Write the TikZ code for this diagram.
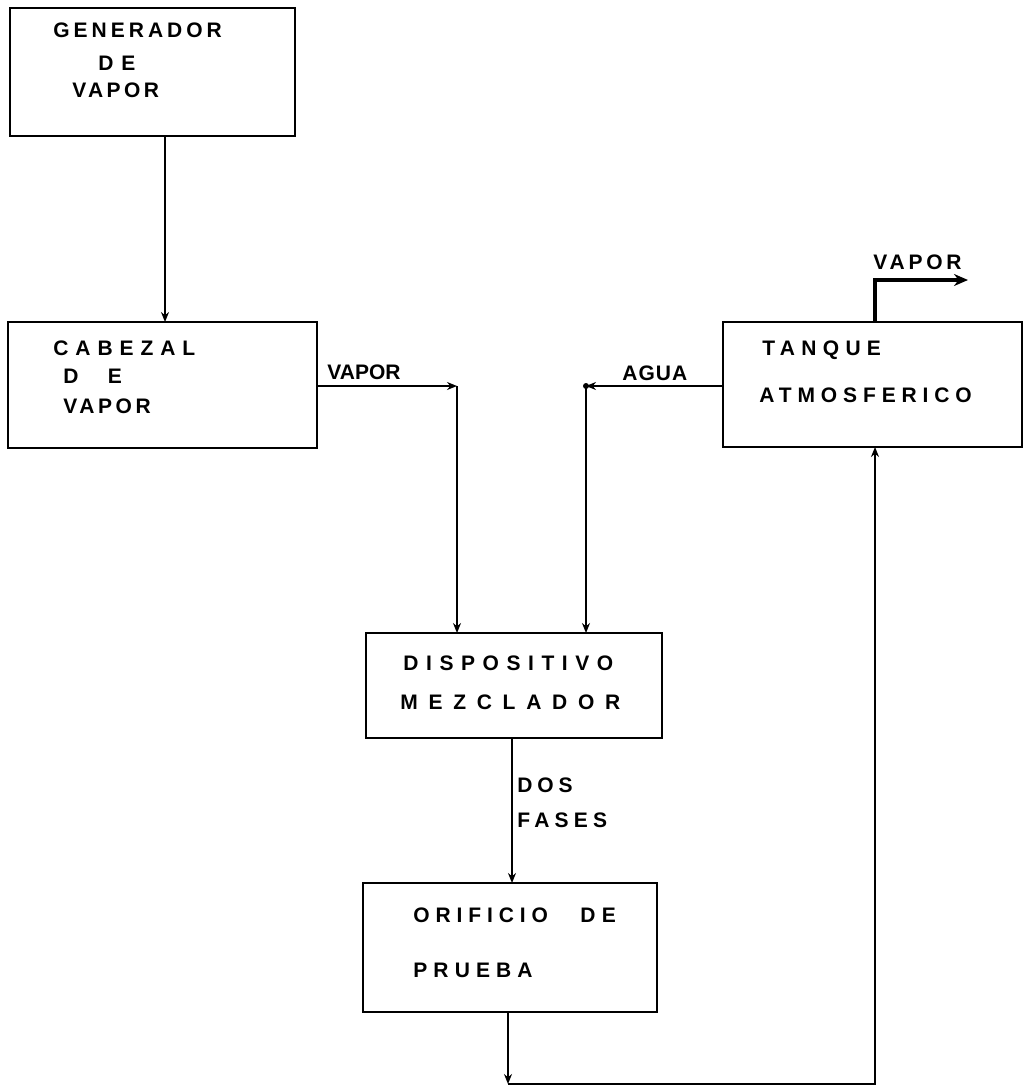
\documentclass[tikz,border=0pt]{standalone}
\usepackage{fontspec}
\setmainfont{Liberation Sans}
\usetikzlibrary{arrows.meta,fit}
\newcommand\LS[2]{{\addfontfeatures{LetterSpace=#1}#2}}
\begin{document}
\begin{tikzpicture}[x=0.5pt,y=-0.5pt,
 box/.style={draw, line width=1pt, inner sep=0pt, outer sep=0pt},
 lbl/.style={anchor=west, inner sep=0pt, font=\bfseries\fontsize{10.5}{12}\selectfont},
 conn/.style={line width=0.8pt},
 arr/.style={conn, -{Stealth[length=5pt,width=4pt]}},
 bigarr/.style={line width=1.8pt, -{Stealth[length=7pt,width=6pt]}}]
\useasboundingbox (0,0) rectangle (1025,1088);
% boxes
\node[box, fit={(10,8) (295,136)}] (gen) {};
\node[box, fit={(8,322) (317,448)}] (cab) {};
\node[box, fit={(723,322) (1022,447)}] (tan) {};
\node[box, fit={(366,633) (662,738)}] (mez) {};
\node[box, fit={(363,883) (657,1012)}] (ori) {};
% box texts
\node[lbl] (g1) at (53,30) {\LS{19}{GENERADOR}};
\node[lbl] (g2) at (98,63) {\LS{37}{DE}};
\node[lbl] (g3) at (72,90) {\LS{16}{VAPOR}};
\node[lbl] (c1t) at (53,348) {\LS{33}{CABEZAL}};
\node[lbl] (c2t) at (63,376) {\LS{140}{DE}};
\node[lbl] (c3t) at (63,406) {\LS{17}{VAPOR}};
\node[lbl] (t1) at (762,350) {\LS{30}{TANQUE}};
\node[lbl] (t2) at (759,395) {\LS{28}{ATMOSFERICO}};
\node[lbl] (m1) at (403,663) {\LS{36}{DISPOSITIVO}};
\node[lbl] (m2) at (400,702) {\LS{51}{MEZCLADOR}};
\node[lbl] (o1) at (413,915) {\LS{28}{ORIFICIO}};
\node[lbl] (o1b) at (580,915) {\LS{30}{DE}};
\node[lbl] (o2) at (413,970) {\LS{29}{PRUEBA}};
% connector labels
\node[lbl] (lv) at (327,372) {VAPOR};
\node[lbl] (la) at (622,373) {\LS{5}{AGUA}};
\node[lbl] (lvt) at (873,262) {\LS{18}{VAPOR}};
\node[lbl] (ld1) at (517,785) {\LS{23}{DOS}};
\node[lbl] (ld2) at (517,820) {\LS{25}{FASES}};
% coordinates
\coordinate (kv) at (457,386);
\coordinate (ka) at (586,386);
\coordinate (kb) at (508,1084);
\coordinate (kr) at (875,1084);
\coordinate (kt) at (875,280);
\coordinate (ke) at (968,280);
% connectors
\draw[arr] (gen.south -| 165,0) -- (cab.north -| 165,0);
\draw[arr] (kv -| cab.east) -- (kv);
\draw[arr] (kv) -- (kv |- mez.north);
\draw[arr] (ka -| tan.west) -- (ka);
\fill (ka) circle (3);
\draw[arr] (ka) -- (ka |- mez.north);
\draw[arr] (mez.south -| 512,0) -- (ori.north -| 512,0);
\draw[arr] (ori.south -| kb) -- (kb);
\draw[arr] (kb) -- (kr) -- (kr |- tan.south);
\draw[bigarr] (tan.north -| kt) -- (kt) -- (ke);
\end{tikzpicture}
\end{document}
